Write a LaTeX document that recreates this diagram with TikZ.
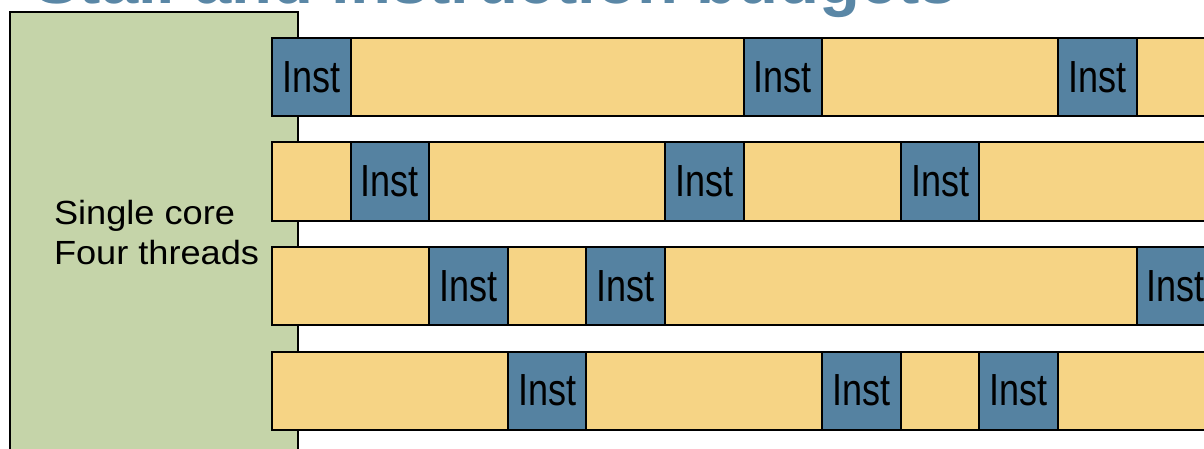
\documentclass[tikz,border=0pt]{standalone}
\usepackage{fontspec}
\setmainfont{Liberation Sans}
\newfontfamily\instfont[FakeStretch=0.8]{Liberation Sans}
\newfontfamily\labelfont[FakeStretch=1.08]{Liberation Sans}
\definecolor{corefill}{HTML}{C5D4A9}
\definecolor{waitfill}{HTML}{F6D485}
\definecolor{instfill}{HTML}{5582A1}
\definecolor{titleblue}{HTML}{5A87A6}
\begin{document}
\begin{tikzpicture}[x=1pt,y=-1pt,line width=2pt,
  corebox/.style={draw=black,fill=corefill,anchor=north west,inner sep=0pt,outer sep=0pt,minimum width=288pt,minimum height=470pt},
  waitbar/.style={draw=black,fill=waitfill,anchor=north west,inner sep=0pt,outer sep=0pt,minimum width=980pt,minimum height=78pt},
  instbox/.style={draw=black,fill=instfill,anchor=north west,inner sep=0pt,outer sep=0pt,minimum width=78.6pt,minimum height=78pt,font=\instfont\fontsize{45}{45}\selectfont},
  corelabel/.style={anchor=base west,inner sep=0pt,font=\labelfont\fontsize{33.5}{40}\selectfont},
  titletext/.style={anchor=base west,inner sep=0pt,text=titleblue,font=\bfseries\fontsize{67}{67}\selectfont}]
\useasboundingbox (0,0) rectangle (1204,449);
\clip (0,0) rectangle (1204,449);
\node[titletext] (title) at (33,3.5) {Stall and instruction budgets};
\node[corebox] (core) at (10,12) {};
\node[corelabel] (lab1) at (53,224) {Single core};
\node[corelabel] (lab2) at (53,264) {Four threads};
\foreach \r/\ka/\kb/\kc in {0/0/6/10,1/1/5/8,2/2/4/11,3/3/7/9}{
  \node[waitbar] (bar\r) at (272,38+\r*104.5) {};
  \foreach \k in {\ka,\kb,\kc}{
    \node[instbox] (inst\r-\k) at (272+\k*78.6,38+\r*104.5) {Inst};
  }
}
\end{tikzpicture}
\end{document}
